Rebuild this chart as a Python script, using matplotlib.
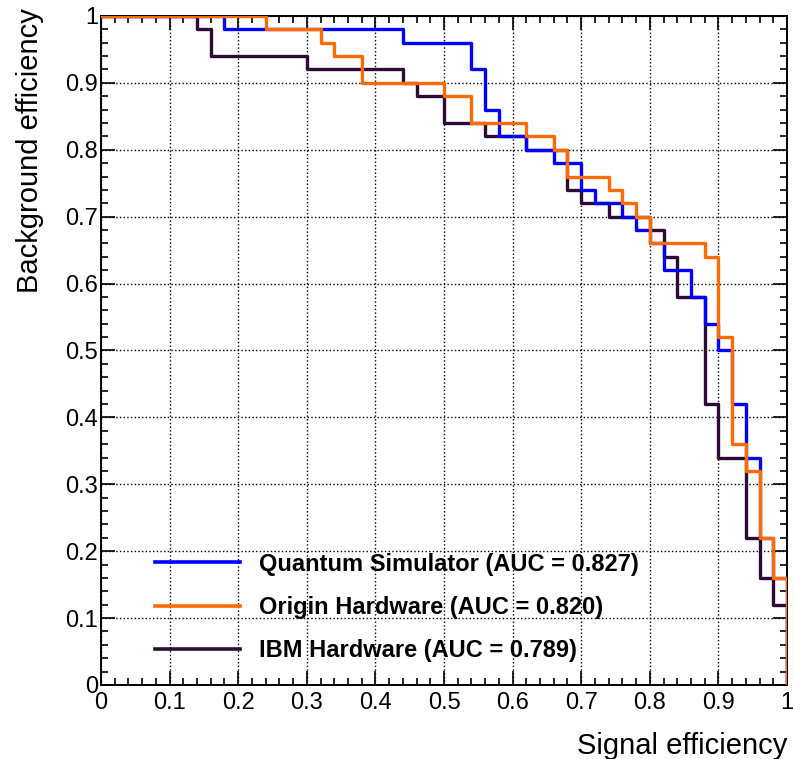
import matplotlib
matplotlib.use("Agg")
import matplotlib.pyplot as plt
from matplotlib.ticker import MultipleLocator

# ROC curves, step points (signal eff. where the step starts, background eff. level)
sim_x = [0, 0.18, 0.44, 0.54, 0.56, 0.58, 0.62, 0.66, 0.70, 0.72, 0.76, 0.78,
         0.80, 0.82, 0.86, 0.88, 0.90, 0.92, 0.94, 0.96, 0.98, 1.0]
sim_y = [1.0, 0.98, 0.96, 0.92, 0.86, 0.82, 0.80, 0.78, 0.74, 0.72, 0.70, 0.68,
         0.66, 0.62, 0.58, 0.54, 0.50, 0.42, 0.34, 0.22, 0.16, 0.0]

origin_x = [0, 0.24, 0.32, 0.34, 0.38, 0.50, 0.54, 0.62, 0.66, 0.68, 0.74, 0.76,
            0.78, 0.80, 0.88, 0.90, 0.92, 0.94, 0.96, 0.98, 1.0]
origin_y = [1.0, 0.98, 0.96, 0.94, 0.90, 0.88, 0.84, 0.82, 0.80, 0.76, 0.74, 0.72,
            0.70, 0.66, 0.64, 0.52, 0.36, 0.32, 0.22, 0.16, 0.0]

ibm_x = [0, 0.14, 0.16, 0.30, 0.44, 0.46, 0.50, 0.56, 0.62, 0.68, 0.70, 0.74,
         0.80, 0.82, 0.84, 0.88, 0.90, 0.94, 0.96, 0.98, 1.0]
ibm_y = [1.0, 0.98, 0.94, 0.92, 0.90, 0.88, 0.84, 0.82, 0.80, 0.74, 0.72, 0.70,
         0.68, 0.64, 0.58, 0.42, 0.34, 0.22, 0.16, 0.12, 0.0]

labels = ["Quantum Simulator (AUC = 0.827)",
          "Origin Hardware (AUC = 0.820)",
          "IBM Hardware (AUC = 0.789)"]
colors = ["#0000ff", "#ff6a00", "#2e0a36"]
# drawing order: IBM at the back, origin on top
zorders = [4, 5, 3]

plt.rcParams['font.family'] = ['Liberation Sans', 'DejaVu Sans']

fig = plt.figure(figsize=(7.93, 7.59), dpi=100)
ax = fig.add_axes([0.1274, 0.0975, 0.865, 0.8815])

for xs, ys, c, lab, z in zip([sim_x, origin_x, ibm_x], [sim_y, origin_y, ibm_y],
                             colors, labels, zorders):
    ax.step(xs, ys, where='post', color=c, lw=2.4, label=lab, zorder=z)

ax.set_xlim(0, 1)
ax.set_ylim(0, 1)
ax.xaxis.set_major_locator(MultipleLocator(0.1))
ax.xaxis.set_minor_locator(MultipleLocator(0.02))
ax.yaxis.set_major_locator(MultipleLocator(0.1))
ax.yaxis.set_minor_locator(MultipleLocator(0.02))
ax.xaxis.set_major_formatter(lambda v, p: f"{v:g}")
ax.yaxis.set_major_formatter(lambda v, p: f"{v:g}")
ax.tick_params(which='both', direction='in', top=True, right=True, width=1.2)
ax.tick_params(which='major', length=10, labelsize=17)
ax.tick_params(which='minor', length=5)
ax.tick_params(axis='x', pad=5)
ax.tick_params(axis='y', pad=2)
ax.grid(True, which='major', ls=':', color='black', lw=1)
for s in ax.spines.values():
    s.set_linewidth(1.4)
    s.set_zorder(2.5)

ax.set_xlabel("Signal efficiency", fontsize=21, loc='right')
ax.set_ylabel("Background efficiency", fontsize=21, loc='top')
ax.xaxis.set_label_coords(1.0, -0.07)
ax.yaxis.set_label_coords(-0.083, 1.012)

leg = ax.legend(loc='lower left', bbox_to_anchor=(0.079, 0.034), frameon=False,
                prop={'weight': 'bold', 'size': 17}, handlelength=3.6,
                handletextpad=0.8, labelspacing=0.86, borderpad=0, borderaxespad=0)
leg.set_zorder(7)
for line in leg.get_lines():
    line.set_linewidth(2.6)

fig.savefig("out.png", dpi=100)
